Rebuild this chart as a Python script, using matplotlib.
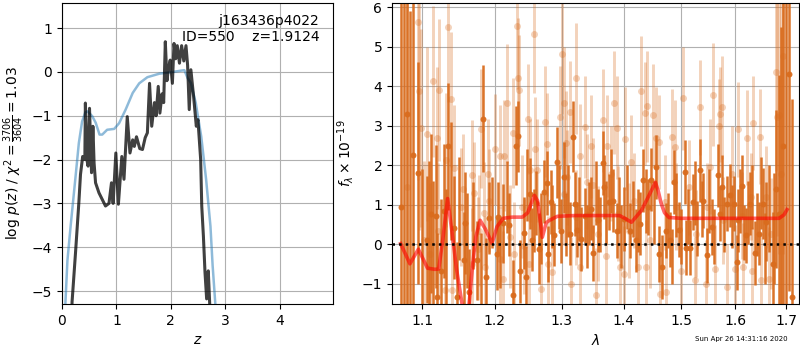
import matplotlib
matplotlib.use("Agg")
import matplotlib.pyplot as plt
from matplotlib.ticker import NullLocator, FixedLocator, FixedFormatter

# ---- left panel: p(z) ----
z_prior = [0.05, 0.10, 0.136, 0.16, 0.25, 0.31, 0.37, 0.43, 0.47, 0.556, 0.62, 0.69,
           0.74, 0.83, 0.96, 1.05, 1.17, 1.30, 1.42, 1.57, 1.79, 2.04, 2.19, 2.25,
           2.31, 2.37, 2.46, 2.56, 2.65, 2.73, 2.77, 2.82, 2.86]
logp_prior = [-5.6, -4.3, -3.82, -3.5, -2.38, -1.62, -1.13, -0.92, -0.9, -1.01, -1.16, -1.43,
              -1.43, -1.32, -1.30, -1.17, -0.86, -0.48, -0.26, -0.12, -0.04, 0.0, 0.03, 0.04,
              -0.14, -0.25, -0.71, -1.47, -2.45, -3.52, -4.42, -5.3, -6.0]

z_fit = [0.15, 0.185, 0.25, 0.31, 0.34, 0.38, 0.42, 0.43, 0.457, 0.48,
         0.506, 0.543, 0.568, 0.59, 0.617, 0.68, 0.74, 0.80, 0.864, 0.91,
         0.94, 0.99, 1.037, 1.10, 1.14, 1.20, 1.25, 1.30, 1.33, 1.37,
         1.43, 1.48, 1.53, 1.57, 1.61, 1.65, 1.70, 1.73, 1.77, 1.80,
         1.84, 1.87, 1.90, 1.93, 1.96, 1.99, 2.03, 2.06, 2.09, 2.12,
         2.16, 2.20, 2.24, 2.28, 2.31, 2.34, 2.37, 2.42, 2.47, 2.50,
         2.55, 2.57, 2.60, 2.63, 2.66, 2.69, 2.72, 2.76]
logp_fit = [-7.0, -5.25, -4.1, -2.98, -2.34, -1.93, -2.0, -0.71, -2.0, -2.15,
            -0.83, -2.3, -1.24, -2.08, -2.53, -2.76, -2.91, -3.06, -3.0, -2.53,
            -3.0, -1.85, -3.02, -1.93, -2.45, -1.02, -1.85, -1.55, -1.7, -1.48,
            -1.75, -1.77, -1.5, -1.39, -0.26, -1.24, -0.7, -1.0, -0.33, -0.94,
            -0.5, -0.7, 0.69, -0.2, 0.1, 0.27, -0.26, 0.65, 0.3, 0.6,
            0.2, 0.6, 0.25, 0.6, 0.15, -0.86, 0.05, -0.56, -1.24, -1.09,
            -2.0, -3.06, -3.74, -4.58, -5.18, -4.54, -5.4, -7.0]

# ---- right panel: spectrum ----
wave_a = [1.072, 1.080, 1.088, 1.094, 1.106, 1.112, 1.118, 1.120, 1.125, 1.129,
          1.135, 1.143, 1.147, 1.156, 1.158, 1.164, 1.174, 1.183, 1.188, 1.192,
          1.203, 1.205, 1.212, 1.221, 1.226, 1.230, 1.234, 1.237, 1.242, 1.245,
          1.251, 1.255, 1.261, 1.265, 1.272, 1.277, 1.279, 1.283, 1.288, 1.292,
          1.299, 1.303, 1.313, 1.318, 1.320, 1.324, 1.330, 1.336, 1.343, 1.347,
          1.350, 1.357, 1.365, 1.368, 1.375, 1.382, 1.388, 1.401, 1.410, 1.420,
          1.428, 1.433, 1.441, 1.447, 1.455, 1.461, 1.466, 1.472, 1.480, 1.487,
          1.495, 1.506, 1.509, 1.516, 1.521, 1.533, 1.540, 1.546, 1.555, 1.568,
          1.570, 1.575, 1.584, 1.590, 1.597, 1.603, 1.605, 1.613, 1.620, 1.628,
          1.638, 1.646, 1.653, 1.660, 1.673, 1.680, 1.686, 1.693, 1.706, 1.712]
flux_a = [0.95, 3.30, 2.25, 1.80, 0.12, 0.78, 0.71, -1.32, -0.66, 0.85,
          2.48, 0.42, -1.33, -0.39, 0.54, -1.21, -0.40, 3.18, -0.83, 0.67,
          -0.24, 0.69, 0.54, 0.50, -1.29, 2.50, 2.73, -0.68, 0.29, -0.83,
          1.28, 0.12, 1.05, -0.11, 1.33, 1.55, -0.24, 1.07, 0.25, 2.08,
          0.34, 1.70, 0.27, 2.72, 1.02, 0.37, 0.14, 0.73, 0.78, 0.90,
          -0.22, 0.61, 2.06, 1.45, 1.07, 1.11, 0.35, 0.64, 0.35, 0.10,
          0.52, 1.62, 0.95, 1.64, 1.96, -0.24, -0.57, 0.35, 0.12, 1.58,
          0.37, 1.83, -0.08, -0.08, 1.07, 1.87, 1.11, -0.28, 0.44, 1.75,
          0.78, 1.45, 1.03, 1.24, 1.03, -0.45, 0.61, 1.47, 0.23, 1.03,
          -0.22, 0.27, 1.03, 0.57, -0.49, 1.41, 0.78, 2.48, 4.32, -1.33]
err_a = [5.5, 5.0, 4.0, 2.8, 1.6, 2.0, 1.8, 1.6, 1.8, 1.7,
         1.6, 1.3, 1.4, 1.2, 1.3, 1.1, 1.0, 1.35, 1.0, 0.9,
         0.9, 0.9, 1.0, 0.8, 0.9, 1.0, 0.9, 0.8, 0.9, 0.8,
         0.9, 0.8, 0.8, 0.9, 0.8, 0.8, 0.7, 0.8, 0.8, 0.9,
         0.8, 0.9, 0.8, 0.9, 0.8, 0.7, 0.8, 0.7, 0.8, 0.8,
         0.7, 0.8, 0.8, 0.8, 0.7, 0.8, 0.7, 0.8, 0.7, 0.8,
         0.8, 0.8, 0.7, 0.8, 0.8, 0.7, 0.8, 0.7, 0.7, 0.8,
         0.7, 0.8, 0.7, 0.7, 0.7, 0.8, 0.7, 0.7, 0.7, 0.8,
         0.7, 0.8, 0.7, 0.8, 0.7, 0.7, 0.8, 0.8, 0.7, 0.8,
         0.8, 0.8, 0.9, 1.0, 1.3, 2.0, 3.5, 5.0, 5.5, 5.0]

# second batch of dark bars whose markers are hidden behind others
wave_a2 = [1.076, 1.084, 1.100, 1.109, 1.115, 1.132, 1.139, 1.150, 1.161, 1.169,
           1.180, 1.196, 1.208, 1.217, 1.247, 1.258, 1.268, 1.285, 1.296, 1.307,
           1.310, 1.327, 1.339, 1.354, 1.361, 1.371, 1.378, 1.392, 1.396, 1.405,
           1.415, 1.424, 1.437, 1.451, 1.476, 1.483, 1.491, 1.499, 1.512, 1.525,
           1.529, 1.537, 1.550, 1.560, 1.579, 1.594, 1.609, 1.616, 1.624, 1.633,
           1.642, 1.650, 1.657, 1.666, 1.676, 1.690, 1.700]
flux_a2 = [1.2, 0.4, -0.6, 0.1, -0.3, -0.2, 1.6, 0.9, 0.1, 0.49,
           -0.71, 0.81, -0.19, 1.2, 1.5, 0.6, 0.4, 0.7, 1.2, 0.5,
           1.1, 0.9, 0.2, 1.3, 0.5, 0.8, 1.6, 1.0, 0.2, 1.2,
           0.9, 0.6, 1.1, 0.8, 0.6, -0.3, 1.0, 0.2, 0.7, 1.3,
           0.4, 0.9, 1.1, 0.2, 0.5, 0.7, 1.1, 0.3, 0.8, 1.2,
           0.5, 1.3, -0.1, 0.9, 0.4, 1.0, 0.6]
err_a2 = [5.5, 5.5, 2.5, 2.0, 1.9, 1.6, 1.5, 1.3, 1.2, 1.1,
          1.0, 0.9, 0.9, 0.9, 0.9, 0.8, 0.9, 0.8, 0.8, 0.8,
          0.9, 0.8, 0.8, 0.8, 0.7, 0.8, 0.8, 0.7, 0.8, 0.8,
          0.7, 0.8, 0.8, 0.8, 0.7, 0.7, 0.8, 0.7, 0.7, 0.8,
          0.7, 0.7, 0.8, 0.7, 0.7, 0.8, 0.8, 0.7, 0.8, 0.8,
          0.8, 0.9, 0.9, 1.1, 1.4, 4.5, 5.5]

wave_b = [1.080, 1.095, 1.096, 1.099, 1.103, 1.107, 1.111, 1.114, 1.120, 1.121,
          1.123, 1.130, 1.132, 1.135, 1.139, 1.140, 1.143, 1.152, 1.155, 1.167,
          1.168, 1.170, 1.176, 1.177, 1.180, 1.185, 1.186, 1.190, 1.191, 1.200,
          1.207, 1.208, 1.212, 1.213, 1.218, 1.222, 1.226, 1.228, 1.232, 1.233,
          1.235, 1.240, 1.242, 1.248, 1.250, 1.251, 1.258, 1.259, 1.262, 1.268,
          1.274, 1.277, 1.278, 1.285, 1.297, 1.301, 1.303, 1.304, 1.306, 1.308,
          1.313, 1.315, 1.322, 1.323, 1.328, 1.329, 1.337, 1.340, 1.347, 1.350,
          1.354, 1.358, 1.366, 1.370, 1.372, 1.378, 1.384, 1.388, 1.390, 1.394,
          1.400, 1.402, 1.408, 1.413, 1.418, 1.424, 1.430, 1.436, 1.437, 1.440,
          1.444, 1.450, 1.455, 1.460, 1.462, 1.470, 1.473, 1.484, 1.488, 1.490,
          1.500, 1.503, 1.513, 1.524, 1.527, 1.533, 1.544, 1.546, 1.553, 1.558,
          1.561, 1.569, 1.571, 1.574, 1.577, 1.585, 1.593, 1.600, 1.606, 1.613,
          1.614, 1.622, 1.630, 1.633, 1.635, 1.647, 1.649, 1.660, 1.665, 1.670,
          1.679, 1.681, 1.685, 1.689, 1.694]
flux_b = [1.45, 5.62, 3.87, 2.95, 0.10, 2.78, -0.24, 4.12, 2.69, 0.35,
          3.90, -1.16, 2.13, 5.50, 3.67, -1.16, 1.92, 0.95, 1.39, -0.49,
          1.75, 1.30, -0.11, 0.35, 2.93, 0.79, -0.57, 1.77, 1.11, 2.40,
          2.23, -0.36, -0.87, 2.24, 3.57, 0.19, 2.82, -0.24, 5.52, 4.22,
          3.90, 0.95, -0.05, 3.17, -0.49, 1.87, 5.33, 2.42, 1.87, -1.12,
          3.10, 2.53, -0.49, -0.70, 3.21, 4.81, 3.58, 1.28, 2.57, 1.70,
          3.35, -1.00, 4.20, 0.69, -0.57, 2.24, 2.97, 1.58, 2.48, 1.49,
          -1.29, 0.27, 3.14, -0.30, 2.49, 1.79, 3.58, 2.95, 0.78, -0.57,
          -0.74, 2.67, 0.35, 2.08, 1.11, -0.57, 3.88, 3.32, -0.57, 3.49,
          0.10, 3.27, 2.69, 2.59, -1.25, 1.07, -1.21, 2.72, 2.46, 0.95,
          -0.66, 3.69, 1.45, -0.91, 0.27, 3.47, -1.00, 0.95, 1.96, 3.78,
          -0.62, 2.99, 3.29, 3.47, 0.61, -1.08, 1.79, -0.62, 2.91, 0.73,
          -0.57, 2.70, 1.20, -0.66, 3.07, 2.72, -0.91, 1.20, -0.87, 0.27,
          4.36, 3.22, 3.27, 1.79, 4.77]
err_b = [5.0, 4.0, 3.5, 2.5, 2.0, 2.2, 1.8, 1.9, 1.8, 1.7,
         1.8, 1.6, 1.7, 1.9, 1.7, 1.5, 1.6, 1.5, 1.4, 1.4,
         1.4, 1.3, 1.3, 1.4, 1.5, 1.3, 1.3, 1.4, 1.3, 1.4,
         1.3, 1.3, 1.2, 1.4, 1.5, 1.3, 1.4, 1.3, 1.6, 1.5,
         1.4, 1.3, 1.2, 1.4, 1.3, 1.3, 1.5, 1.3, 1.3, 1.2,
         1.4, 1.3, 1.2, 1.2, 1.3, 1.5, 1.4, 1.3, 1.3, 1.2,
         1.3, 1.2, 1.4, 1.2, 1.2, 1.3, 1.3, 1.2, 1.3, 1.2,
         1.2, 1.2, 1.3, 1.2, 1.3, 1.2, 1.3, 1.3, 1.2, 1.2,
         1.2, 1.3, 1.2, 1.2, 1.2, 1.2, 1.4, 1.3, 1.2, 1.4,
         1.2, 1.3, 1.3, 1.2, 1.2, 1.2, 1.1, 1.2, 1.2, 1.1,
         1.1, 1.3, 1.2, 1.1, 1.1, 1.2, 1.1, 1.1, 1.2, 1.3,
         1.1, 1.2, 1.2, 1.3, 1.1, 1.1, 1.2, 1.1, 1.2, 1.1,
         1.1, 1.2, 1.1, 1.1, 1.2, 1.2, 1.2, 1.3, 1.3, 1.4,
         2.5, 3.0, 3.5, 4.5, 5.0]

model_wave = [1.072, 1.084, 1.095, 1.107, 1.117, 1.122, 1.128, 1.134, 1.140, 1.146,
              1.152, 1.158, 1.163, 1.168, 1.173, 1.179, 1.186, 1.196, 1.203, 1.212,
              1.225, 1.240, 1.248, 1.258, 1.263, 1.270, 1.276, 1.281, 1.293, 1.320,
              1.360, 1.393, 1.403, 1.413, 1.430, 1.445, 1.454, 1.459, 1.464, 1.470,
              1.478, 1.500, 1.600, 1.686, 1.696, 1.702]
model_flux = [0.02, -0.49, -0.12, -0.60, -0.63, -0.62, 0.2, 1.16, 0.3, -0.6,
              -1.3, -2.0, -1.6, -0.6, 0.2, 0.61, 0.4, 0.03, 0.45, 0.66,
              0.69, 0.69, 0.8, 1.24, 1.1, 0.18, 0.55, 0.61, 0.71, 0.73,
              0.73, 0.73, 0.65, 0.56, 0.86, 1.3, 1.57, 1.35, 1.04, 0.8,
              0.68, 0.66, 0.66, 0.66, 0.75, 0.88]

wave_ticks = [1.1, 1.2, 1.3, 1.4, 1.5, 1.6, 1.7]
orange = "#d96c1e"

fig = plt.figure(figsize=(8, 3.5), dpi=100)
ax1 = fig.add_axes([0.0775, 0.131, 0.3385, 0.860])
ax2 = fig.add_axes([0.490, 0.131, 0.509, 0.860])

# p(z) panel
ax1.plot(z_prior, logp_prior, color="tab:blue", alpha=0.5, lw=1.8)
ax1.plot(z_fit, logp_fit, color="k", alpha=0.75, lw=2.2)
ax1.set_xlim(0, 4.98)
ax1.set_ylim(-5.3, 1.57)
ax1.set_xticks([0, 1, 2, 3, 4])
ax1.set_xlabel(r"$z$")
ax1.set_ylabel(r"log $p(z)$ / $\chi^2=\frac{3706}{3604}=1.03$")
ax1.text(0.95, 0.965, "j163436p4022\nID=550    z=1.9124", transform=ax1.transAxes,
         ha="right", va="top", fontsize=10)
ax1.grid()

# spectrum panel
ax2.errorbar(wave_b, flux_b, yerr=err_b, fmt="o", color=orange, alpha=0.3,
             ms=5, elinewidth=2.1, capsize=0, mew=0)
ax2.errorbar(wave_a, flux_a, yerr=err_a, fmt="o", color=orange, alpha=0.95,
             ms=4.3, elinewidth=1.8, capsize=0, mew=0)
ax2.errorbar(wave_a2, flux_a2, yerr=err_a2, fmt="none", color=orange, alpha=0.95,
             elinewidth=1.8, capsize=0)
ax2.plot(model_wave, model_flux, color="red", alpha=0.6, lw=2.6, zorder=5)
ax2.axhline(0, color="k", ls=":", lw=1.8, zorder=6)

ax2.set_xscale("log")
ax2.set_xlim(1.061, 1.727)
ax2.set_ylim(-1.51, 6.1)
ax2.xaxis.set_major_locator(FixedLocator(wave_ticks))
ax2.xaxis.set_major_formatter(FixedFormatter([f"{w:.1f}" for w in wave_ticks]))
ax2.xaxis.set_minor_locator(NullLocator())
ax2.set_xlabel(r"$\lambda$")
ax2.set_ylabel(r"$f_\lambda\times10^{-19}$")
ax2.grid()

fig.text(0.984, 0.022, "Sun Apr 26 14:31:16 2020", ha="right", va="bottom", fontsize=5)

plt.savefig("out.png", dpi=100)
